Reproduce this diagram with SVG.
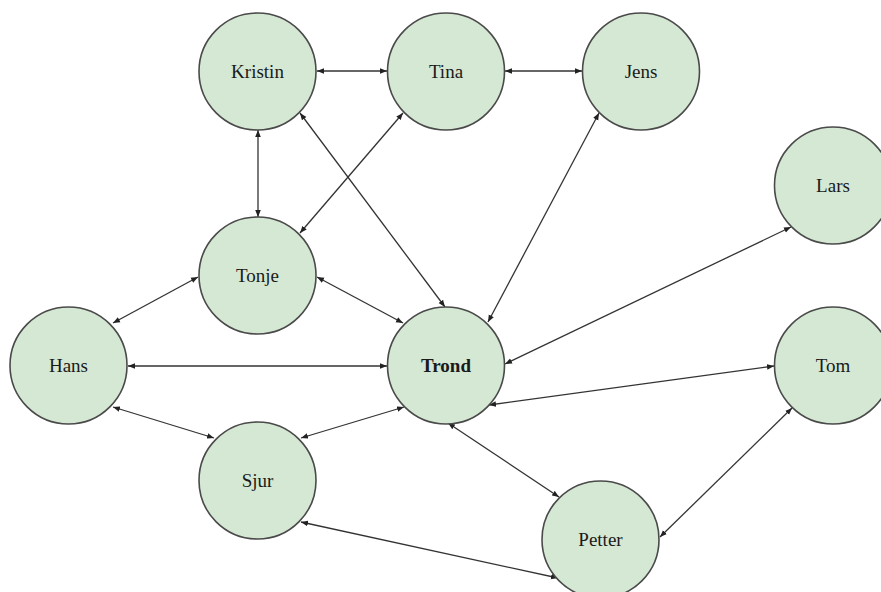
<svg xmlns="http://www.w3.org/2000/svg" width="881" height="592" viewBox="0 0 881 592">
<style>
.node circle{fill:#d5e8d4;stroke:#4a4a4a;stroke-width:1.6}
.node text{font-family:"Liberation Serif","Times New Roman",serif;font-size:19px;fill:#1a1a1a;text-anchor:middle}
.edges line{stroke:#333;stroke-width:1.3;marker-start:url(#ah);marker-end:url(#ah)}
</style>
<defs>
<marker id="ah" viewBox="0 0 10 10" refX="10" refY="5" markerWidth="7" markerHeight="7" markerUnits="userSpaceOnUse" orient="auto-start-reverse">
<path d="M0,1 L10,5 L0,9 Z" fill="#222"/>
</marker>
</defs>
<g class="edges">
<line x1="317" y1="71" x2="387" y2="71"/>
<line x1="505" y1="71" x2="582" y2="71"/>
<line x1="258" y1="130" x2="258" y2="217"/>
<line x1="300" y1="113" x2="445" y2="307"/>
<line x1="403" y1="113" x2="300" y2="233"/>
<line x1="599" y1="113" x2="488" y2="322"/>
<line x1="198" y1="277" x2="113" y2="323"/>
<line x1="317" y1="277" x2="403" y2="323"/>
<line x1="128" y1="366" x2="387" y2="366"/>
<line x1="791" y1="227" x2="505" y2="364"/>
<line x1="489" y1="405" x2="774" y2="366"/>
<line x1="113" y1="407" x2="214" y2="438"/>
<line x1="301" y1="438" x2="404" y2="407"/>
<line x1="448" y1="423" x2="559" y2="497"/>
<line x1="301" y1="522" x2="558" y2="578"/>
<line x1="660" y1="537" x2="792" y2="408"/>
</g>
<g id="kristin" class="node"><circle cx="257.5" cy="71.5" r="58.5"/><text x="257.5" y="78">Kristin</text></g>
<g id="tina" class="node"><circle cx="446" cy="71.5" r="58.5"/><text x="446" y="78">Tina</text></g>
<g id="jens" class="node"><circle cx="641" cy="71.5" r="58.5"/><text x="641" y="78">Jens</text></g>
<g id="lars" class="node"><circle cx="833" cy="185.5" r="58.5"/><text x="833" y="192">Lars</text></g>
<g id="tonje" class="node"><circle cx="257.5" cy="275.5" r="58.5"/><text x="257.5" y="282">Tonje</text></g>
<g id="hans" class="node"><circle cx="68.5" cy="365.5" r="58.5"/><text x="68.5" y="372">Hans</text></g>
<g id="trond" class="node"><circle cx="446" cy="365.5" r="58.5"/><text x="446" y="372" font-weight="bold">Trond</text></g>
<g id="tom" class="node"><circle cx="833" cy="365.5" r="58.5"/><text x="833" y="372">Tom</text></g>
<g id="sjur" class="node"><circle cx="257.5" cy="480.5" r="58.5"/><text x="257.5" y="487">Sjur</text></g>
<g id="petter" class="node"><circle cx="600.5" cy="539.5" r="58.5"/><text x="600.5" y="546">Petter</text></g>
</svg>
